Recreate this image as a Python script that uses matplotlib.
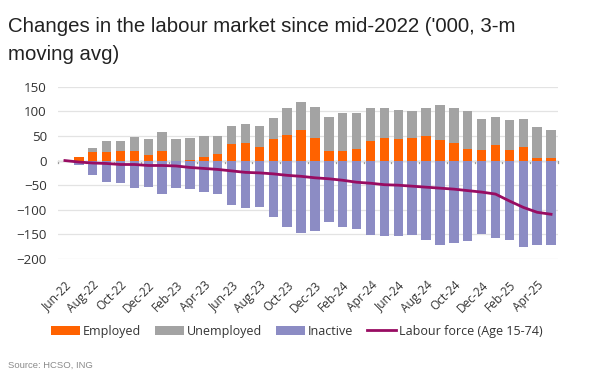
import numpy as np
import matplotlib
matplotlib.use("Agg")
import matplotlib.pyplot as plt

months = ["Jun-22", "Jul-22", "Aug-22", "Sep-22", "Oct-22", "Nov-22", "Dec-22",
          "Jan-23", "Feb-23", "Mar-23", "Apr-23", "May-23", "Jun-23", "Jul-23",
          "Aug-23", "Sep-23", "Oct-23", "Nov-23", "Dec-23", "Jan-24", "Feb-24",
          "Mar-24", "Apr-24", "May-24", "Jun-24", "Jul-24", "Aug-24", "Sep-24",
          "Oct-24", "Nov-24", "Dec-24", "Jan-25", "Feb-25", "Mar-25", "Apr-25",
          "May-25"]
employed = [0, 7, 17, 18, 20, 19, 11, 19, 0, 2, 7, 13, 33, 35, 27, 44, 52, 61,
            46, 20, 20, 24, 39, 45, 43, 45, 50, 42, 35, 24, 22, 31, 22, 27, 6, 6]
# total height of the grey stack (employed + unemployed)
emp_unemp = [0, 8, 25, 39, 39, 47, 44, 58, 43, 45, 49, 49, 71, 75, 71, 87, 106,
             118, 109, 88, 96, 96, 106, 107, 103, 100, 106, 112, 107, 101, 84,
             88, 82, 84, 69, 63]
inactive = [0, -10, -29, -44, -45, -55, -54, -68, -55, -58, -64, -67, -90, -97,
            -95, -114, -134, -148, -143, -124, -134, -139, -152, -154, -153,
            -152, -161, -171, -168, -164, -150, -158, -162, -175, -172, -172]
labour_force = [0, -3, -5, -6, -8, -8, -10, -10, -11, -14, -16, -18, -21, -24,
                -25, -27, -30, -32, -35, -37, -40, -44, -46, -49, -50, -52, -54,
                -56, -58, -61, -64, -68, -82, -95, -105, -109]

employed = np.array(employed)
unemployed = np.array(emp_unemp) - employed
x = np.arange(len(months))

fig = plt.figure(figsize=(5.94, 3.92), dpi=100)
ax = fig.add_axes([0.0976, 0.339, 0.8418, 0.440])

width = 0.68
ax.bar(x, employed, width, color='#FF6200', label='Employed', zorder=2)
ax.bar(x, unemployed, width, bottom=employed, color='#A3A3A3', label='Unemployed', zorder=2)
ax.bar(x, inactive, width, color='#8C8CC4', label='Inactive', zorder=2)
ax.plot(x, labour_force, color='#980C62', linewidth=2, label='Labour force (Age 15-74)', zorder=3)

ax.set_xlim(-0.5, len(months) - 0.5)
ax.set_ylim(-200, 150)
ax.set_yticks(np.arange(-200, 151, 50))
ax.grid(axis='y', color='#E3E3E3', linewidth=0.9, zorder=0)
ax.axhline(0, color='#9A9A9A', linewidth=0.9, zorder=1)

for s in ax.spines.values():
    s.set_visible(False)

tick_font = 'Open Sans'
ax.set_xticks(x[::2])
ax.set_xticklabels(months[::2], rotation=45, ha='right', rotation_mode='anchor',
                   fontsize=8.6, color='#333333', family=tick_font)
ax.tick_params(axis='x', length=0, pad=14)
ax.tick_params(axis='y', length=0, labelsize=9.6, labelcolor='#333333', pad=8)
for lab in ax.get_yticklabels():
    lab.set_family(tick_font)

# small tick marks on the zero line, between every second category
for b in np.arange(-0.5, len(months), 2):
    ax.plot([b, b], [0, -4], color='#9A9A9A', linewidth=0.9, zorder=1, clip_on=False)

fig.text(0.0135, 0.918, "Changes in the labour market since mid-2022 ('000, 3-m",
         fontsize=14.7, color='#222222', family='Liberation Sans', va='baseline')
fig.text(0.0135, 0.847, "moving avg)",
         fontsize=14.7, color='#222222', family='Liberation Sans', va='baseline')

handles, labels = ax.get_legend_handles_labels()
order = [1, 2, 3, 0]
leg = fig.legend([handles[i] for i in order], [labels[i] for i in order],
                 loc='center', bbox_to_anchor=(0.5, 0.155), ncol=4, frameon=False,
                 handlelength=2.3, handleheight=0.65, columnspacing=1.1,
                 handletextpad=0.25, prop={'family': tick_font, 'size': 9})
for t in leg.get_texts():
    t.set_color('#333333')

fig.text(0.0135, 0.062, "Source: HCSO, ING", fontsize=6.8, color='#8A8A8A',
         family='Liberation Sans')

plt.savefig("out.png", dpi=100)
